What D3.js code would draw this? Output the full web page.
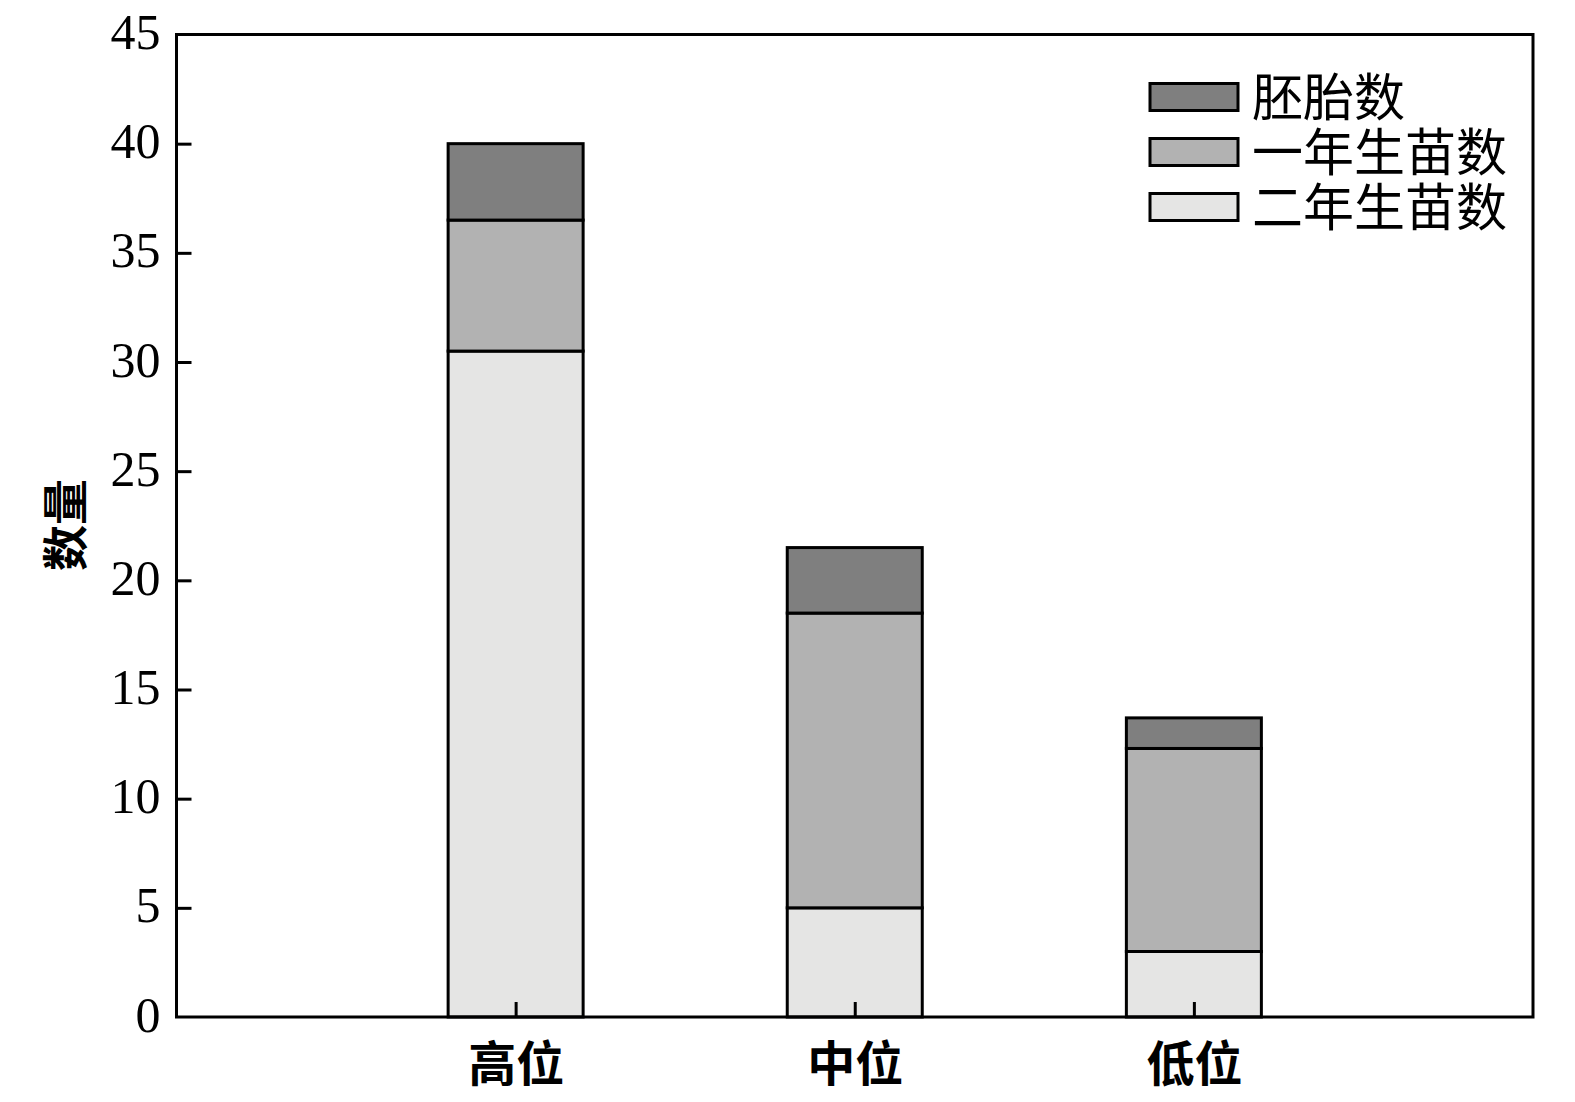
<!DOCTYPE html>
<html><head><meta charset="utf-8">
<script src="https://cdn.jsdelivr.net/npm/d3@7"></script>
<style>body{margin:0;background:#fff}</style>
</head><body>
<svg id="chart" width="1575" height="1102"></svg>
<script>
const categories = ["高位", "中位", "低位"];
const seriesNames = ["二年生苗数", "一年生苗数", "胚胎数"];
const twoYear = [30.5, 5, 3];
const oneYear = [6, 13.5, 9.3];
const embryo = [3.5, 3, 1.4];
const yTicks = [0, 5, 10, 15, 20, 25, 30, 35, 40, 45];
const colors = ["#e5e5e4", "#b2b2b2", "#7f7f7f"];

const svg = d3.select("#chart");
const m = {l: 176.5, t: 34.5, r: 1575 - 1533, b: 1102 - 1017};
const W = 1575 - m.l - m.r, H = 1102 - m.t - m.b;
const g = svg.append("g").attr("transform", `translate(${m.l},${m.t})`);

const x = d3.scalePoint().domain(["", ...categories, " "]).range([0, W]);
const y = d3.scaleLinear().domain([0, 45]).range([H, 0]);
const barW = 135;

const rows = categories.map((c, i) => ({cat: c, "二年生苗数": twoYear[i], "一年生苗数": oneYear[i], "胚胎数": embryo[i]}));
const stack = d3.stack().keys(seriesNames)(rows);

stack.forEach((s, si) => {
  g.selectAll(null).data(s).enter().append("rect")
    .attr("x", d => x(d.data.cat) - barW / 2)
    .attr("width", barW)
    .attr("y", d => y(d[1]))
    .attr("height", d => y(d[0]) - y(d[1]))
    .attr("fill", colors[si])
    .attr("stroke", "#000").attr("stroke-width", 3);
});

// frame
g.append("rect").attr("x", 0).attr("y", 0).attr("width", W).attr("height", H)
  .attr("fill", "none").attr("stroke", "#000").attr("stroke-width", 3);

// y axis
const ya = g.append("g").call(d3.axisLeft(y).tickValues(yTicks).tickSize(-15).tickPadding(16));
ya.select(".domain").remove();
ya.selectAll(".tick line").attr("stroke-width", 3);
ya.selectAll(".tick text").attr("font-family", "'Liberation Serif', serif").attr("font-size", 50).attr("fill", "#000").attr("dy", "0.28em");
ya.selectAll(".tick").filter(d => d === 0 || d === 45).select("line").remove();

// x axis
const xa = g.append("g").attr("transform", `translate(0,${H})`)
  .call(d3.axisBottom(x).tickValues(categories).tickSize(-15).tickPadding(30));
xa.select(".domain").remove();
xa.selectAll(".tick line").attr("stroke-width", 3);
xa.selectAll(".tick text").attr("font-family", "'Noto Sans CJK SC', sans-serif").attr("font-weight", "bold")
  .attr("font-size", 48).attr("fill", "#000").attr("dy", "0.71em");

// y label
svg.append("text").attr("transform", "translate(82,525) rotate(-90)")
  .attr("text-anchor", "middle").attr("font-family", "'Noto Sans CJK SC', sans-serif").attr("font-weight", "bold")
  .attr("font-size", 46).text("数量");

// legend
const legendOrder = [2, 1, 0];
const lg = svg.append("g");
legendOrder.forEach((si, i) => {
  const yy = 83.5 + i * 55;
  lg.append("rect").attr("x", 1150).attr("y", yy).attr("width", 88).attr("height", 27)
    .attr("fill", colors[si]).attr("stroke", "#000").attr("stroke-width", 3);
  lg.append("text").attr("x", 1252).attr("y", yy + 14).attr("dy", "0.36em")
    .attr("font-family", "'Noto Sans CJK SC', sans-serif").attr("font-size", 51)
    .text(seriesNames[si]);
});
</script>
</body></html>
